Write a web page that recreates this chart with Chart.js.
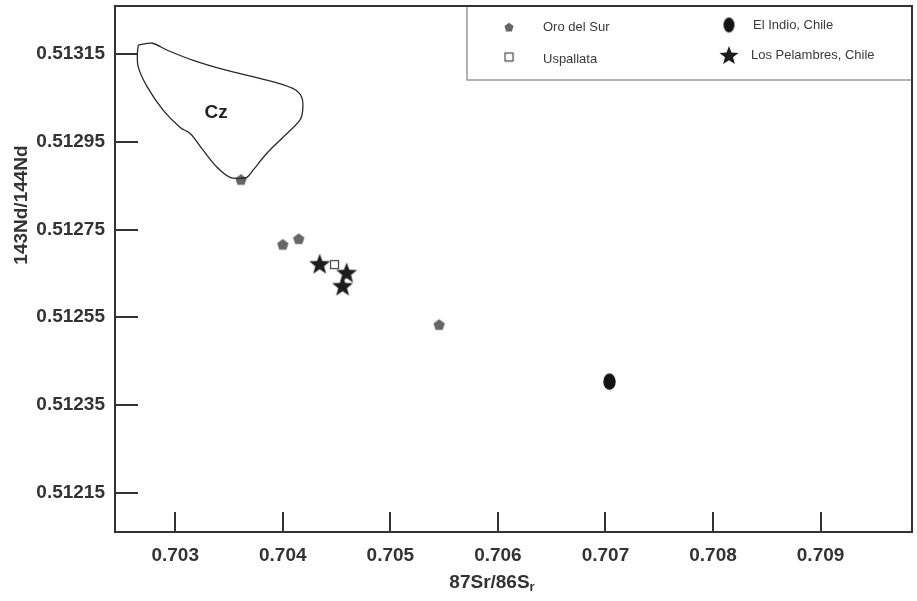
<!DOCTYPE html>
<html>
<head>
<meta charset="utf-8">
<script src="https://cdn.jsdelivr.net/npm/chart.js@4.4.1/dist/chart.umd.min.js"></script>
<style>
  html, body { margin: 0; padding: 0; background: #fff; }
  #wrap { width: 917px; height: 601px; }
</style>
</head>
<body>
<div id="wrap"><canvas id="chart"></canvas></div>
<script>
// ---------------------------------------------------------
// Data
// ---------------------------------------------------------
const xTicks = [0.703, 0.704, 0.705, 0.706, 0.707, 0.708, 0.709];
const xTickLabels = ["0.703", "0.704", "0.705", "0.706", "0.707", "0.708", "0.709"];
const yTicks = [0.51215, 0.51235, 0.51255, 0.51275, 0.51295, 0.51315];
const yTickLabels = ["0.51215", "0.51235", "0.51255", "0.51275", "0.51295", "0.51315"];

const oroX = [0.703611, 0.704000, 0.704148, 0.705454];
const oroY = [0.512864, 0.512716, 0.512729, 0.512533];

const uspallataX = [0.704481];
const uspallataY = [0.512670];

const indioX = [0.707037];
const indioY = [0.512403];

const pelambresX = [0.704343, 0.704593, 0.704556];
const pelambresY = [0.512672, 0.512652, 0.512622];

// Cz field outline (closed loop)
const czX = [0.702657, 0.702787, 0.702926, 0.703167, 0.703481, 0.703787, 0.704093, 0.704176,
             0.704185, 0.704157, 0.704000, 0.703852, 0.703722, 0.703667, 0.703620, 0.703509,
             0.703389, 0.703259, 0.703139, 0.703046, 0.702889, 0.702741, 0.702657, 0.702648,
             0.702657];
const czY = [0.513171, 0.513175, 0.513159, 0.513136, 0.513113, 0.513095, 0.513072, 0.513052,
             0.513022, 0.512999, 0.512960, 0.512924, 0.512885, 0.512869, 0.512867, 0.512869,
             0.512892, 0.512931, 0.512969, 0.512983, 0.513022, 0.513075, 0.513120, 0.513152,
             0.513171];

const toPoints = (xs, ys) => xs.map((x, i) => ({ x: x, y: ys[i] }));

// ---------------------------------------------------------
// Marker shapes (Chart.js has no filled star / pentagon)
// ---------------------------------------------------------
function makeMarker(w, h, draw) {
  const c = document.createElement("canvas");
  c.width = w; c.height = h;
  draw(c.getContext("2d"), w, h);
  return c;
}

function starPath(ctx, cx, cy, outer, inner, n) {
  ctx.beginPath();
  for (let i = 0; i < n * 2; i++) {
    const r = i % 2 === 0 ? outer : inner;
    const a = -Math.PI / 2 + i * Math.PI / n;
    const px = cx + r * Math.cos(a), py = cy + r * Math.sin(a);
    if (i === 0) ctx.moveTo(px, py); else ctx.lineTo(px, py);
  }
  ctx.closePath();
}

function pentagonMarker(r) {
  const s = Math.ceil(r * 2 + 2);
  return makeMarker(s, s, (ctx, w, h) => {
    ctx.beginPath();
    for (let i = 0; i < 5; i++) {
      const a = -Math.PI / 2 + i * 2 * Math.PI / 5;
      const px = w / 2 + r * Math.cos(a), py = h / 2 + 0.5 + r * Math.sin(a);
      if (i === 0) ctx.moveTo(px, py); else ctx.lineTo(px, py);
    }
    ctx.closePath();
    ctx.fillStyle = "#666";
    ctx.fill();
  });
}

function starMarker(outer) {
  const s = Math.ceil(outer * 2 + 2);
  return makeMarker(s, s, (ctx, w, h) => {
    starPath(ctx, w / 2, h / 2 + 1, outer, outer * 0.42, 5);
    ctx.fillStyle = "#1c1c1c";
    ctx.fill();
  });
}

function ellipseMarker(rx, ry) {
  return makeMarker(Math.ceil(rx * 2 + 2), Math.ceil(ry * 2 + 2), (ctx, w, h) => {
    ctx.beginPath();
    ctx.ellipse(w / 2, h / 2, rx, ry, 0, 0, Math.PI * 2);
    ctx.fillStyle = "#141414";
    ctx.fill();
  });
}

function squareMarker(side) {
  const s = side + 2;
  return makeMarker(s, s, (ctx) => {
    ctx.fillStyle = "#fff";
    ctx.fillRect(1, 1, side, side);
    ctx.strokeStyle = "#444";
    ctx.lineWidth = 1.2;
    ctx.strokeRect(1.5, 1.5, side - 1, side - 1);
  });
}

const pentaPt = pentagonMarker(6);
const pentaLeg = pentagonMarker(4.8);
const starPt = starMarker(11);
const starLeg = starMarker(10);
const ellPt = ellipseMarker(6.2, 8.2);
const ellLeg = ellipseMarker(5.5, 7.5);
const sqPt = squareMarker(9);
const sqLeg = squareMarker(9);

// ---------------------------------------------------------
// Frame, inner ticks, titles, Cz label and legend box
// ---------------------------------------------------------
const ink = "#333";

const decorPlugin = {
  id: "decor",
  afterDraw(chart) {
    const ctx = chart.ctx;
    const a = chart.chartArea;
    const xs = chart.scales.x, ys = chart.scales.y;
    ctx.save();

    // ticks pointing into the plot
    ctx.strokeStyle = ink;
    ctx.lineWidth = 2;
    xTicks.forEach(v => {
      const px = Math.round(xs.getPixelForValue(v));
      ctx.beginPath(); ctx.moveTo(px, a.bottom); ctx.lineTo(px, a.bottom - 20); ctx.stroke();
    });
    yTicks.forEach(v => {
      const py = Math.round(ys.getPixelForValue(v));
      ctx.beginPath(); ctx.moveTo(a.left, py); ctx.lineTo(a.left + 23, py); ctx.stroke();
    });

    // Cz label
    ctx.fillStyle = "#222";
    ctx.font = "bold 19px 'Liberation Sans', Arial, sans-serif";
    ctx.textAlign = "center";
    ctx.textBaseline = "middle";
    ctx.fillText("Cz", xs.getPixelForValue(0.70338), ys.getPixelForValue(0.513017));

    // legend box
    const lx = 467, lb = 80;
    ctx.fillStyle = "#fff";
    ctx.fillRect(lx, a.top, a.right - lx, lb - a.top);
    ctx.strokeStyle = "#8a8a8a";
    ctx.lineWidth = 1.3;
    ctx.strokeRect(lx, a.top, a.right - lx, lb - a.top);

    const drawImg = (img, cx, cy) => ctx.drawImage(img, cx - img.width / 2, cy - img.height / 2);
    drawImg(pentaLeg, 509, 27);
    drawImg(sqLeg, 509, 57);
    drawImg(ellLeg, 729, 25);
    drawImg(starLeg, 729, 55);
    ctx.fillStyle = "#3a3a3a";
    ctx.font = "13px 'Liberation Sans', Arial, sans-serif";
    ctx.textAlign = "left";
    ctx.fillText("Oro del Sur", 543, 27);
    ctx.fillText("Uspallata", 543, 59);
    ctx.fillText("El Indio, Chile", 753, 25);
    ctx.fillText("Los Pelambres, Chile", 751, 55);

    // frame
    ctx.strokeStyle = ink;
    ctx.lineWidth = 2;
    ctx.strokeRect(a.left, a.top, a.right - a.left, a.bottom - a.top);

    // axis titles
    ctx.fillStyle = ink;
    ctx.font = "bold 19px 'Liberation Sans', Arial, sans-serif";
    ctx.textAlign = "center";
    ctx.textBaseline = "middle";
    ctx.save();
    ctx.translate(22, 205);
    ctx.rotate(-Math.PI / 2);
    ctx.fillText("143Nd/144Nd", 0, 0);
    ctx.restore();

    const main = "87Sr/86S";
    const wMain = ctx.measureText(main).width;
    ctx.font = "bold 13px 'Liberation Sans', Arial, sans-serif";
    const wSub = ctx.measureText("r").width;
    const x0 = 492 - (wMain + wSub) / 2;
    ctx.textAlign = "left";
    ctx.font = "bold 19px 'Liberation Sans', Arial, sans-serif";
    ctx.fillText(main, x0, 583);
    ctx.font = "bold 13px 'Liberation Sans', Arial, sans-serif";
    ctx.fillText("r", x0 + wMain, 587);

    ctx.restore();
  }
};

// ---------------------------------------------------------
// Chart
// ---------------------------------------------------------
const tickFont = { family: "'Liberation Sans', Arial, sans-serif", size: 19, weight: "bold" };

new Chart(document.getElementById("chart"), {
  type: "scatter",
  data: {
    datasets: [
      {
        label: "Cz",
        data: toPoints(czX, czY),
        showLine: true,
        borderColor: "#2a2a2a",
        borderWidth: 1.3,
        pointRadius: 0,
        tension: 0.35,
        fill: false
      },
      { label: "Oro del Sur", data: toPoints(oroX, oroY), pointStyle: pentaPt },
      { label: "Uspallata", data: toPoints(uspallataX, uspallataY), pointStyle: sqPt },
      { label: "El Indio, Chile", data: toPoints(indioX, indioY), pointStyle: ellPt },
      { label: "Los Pelambres, Chile", data: toPoints(pelambresX, pelambresY), pointStyle: starPt }
    ]
  },
  options: {
    responsive: true,
    maintainAspectRatio: false,
    animation: false,
    events: [],
    layout: { padding: { top: 6, right: -3, left: 0, bottom: 0 } },
    plugins: {
      legend: { display: false },
      tooltip: { enabled: false }
    },
    scales: {
      x: {
        type: "linear",
        min: 0.70244,
        max: 0.70985,
        grid: { display: false, drawTicks: false },
        border: { display: false },
        afterBuildTicks: s => { s.ticks = xTicks.map(v => ({ value: v })); },
        afterFit: s => { s.height = 69; s.paddingLeft = 0; s.paddingRight = 0; },
        ticks: {
          padding: 12,
          color: ink,
          font: tickFont,
          maxRotation: 0,
          autoSkip: false,
          callback: (v, i) => xTickLabels[i]
        }
      },
      y: {
        type: "linear",
        min: 0.51206,
        max: 0.51326,
        grid: { display: false, drawTicks: false },
        border: { display: false },
        afterBuildTicks: s => { s.ticks = yTicks.map(v => ({ value: v })); },
        afterFit: s => { s.width = 115; s.paddingTop = 0; s.paddingBottom = 0; },
        ticks: {
          padding: 10,
          color: ink,
          font: tickFont,
          autoSkip: false,
          callback: (v, i) => yTickLabels[i]
        }
      }
    }
  },
  plugins: [decorPlugin]
});
</script>
</body>
</html>
